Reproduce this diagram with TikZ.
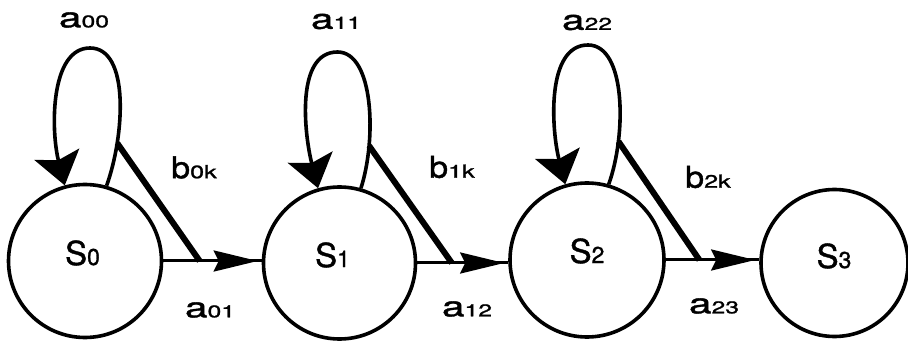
\documentclass[tikz,border=0pt]{standalone}
\usepackage{fontspec}
\usepackage{graphicx}
\setmainfont{TeX Gyre Heros}
\newfontfamily\labfont{TeX Gyre Heros}[FakeBold=1.2]
\usetikzlibrary{arrows.meta,decorations.markings}

% label forms: widened a_ij, b_ik with a widened index, and S_i
\newcommand\alab[1]{\scalebox{1.45}[1]{\fontsize{28}{28}\selectfont a\fontsize{17}{17}\selectfont #1}}
\newcommand\blab[1]{\scalebox{1.13}[1]{\fontsize{30}{30}\selectfont b}\scalebox{1.4}[1]{\fontsize{18}{18}\selectfont #1}}
\newcommand\slab[1]{{\fontsize{33}{33}\selectfont S}{\fontsize{23}{23}\selectfont #1}}

\begin{document}
\begin{tikzpicture}[x=1pt,y=1pt,
  state/.style={draw, circle, line width=3.6pt, inner sep=0pt, minimum size=#1},
  txt/.style={inner sep=0pt, font=\labfont},
  loopline/.style={line width=3.6pt, -{Stealth[length=32pt,width=46pt,inset=6pt]}},
  exitline/.style={line width=6pt},
  trans/.style={line width=3pt, postaction={decorate},
    decoration={markings, mark=at position -4pt with {\arrow{Stealth[length=44pt,width=21pt,inset=5pt]}}}},
]
\fill[white] (0,0) rectangle (908,343);
\useasboundingbox (0,0) rectangle (908,343);

% states
\node[state=153pt] (S0) at (85,82) {};
\node[state=152pt] (S1) at (339.5,80) {};
\node[state=154pt] (S2) at (587,83) {};
\node[state=147pt] (S3) at (834.5,80) {};

\node[txt] (n0) at (82.5,90) {\slab{0}};
\node[txt] (n1) at (332.5,88) {\slab{1}};
\node[txt] (n2) at (587,92) {\slab{2}};
\node[txt] (n3) at (834,87) {\slab{3}};

% forward transitions
\draw[trans] (S0.east) -- (S0.east -| S1.west) coordinate[pos=0.37] (j0);
\draw[trans] (S1.east) -- (S1.east -| S2.west) coordinate[pos=0.38] (j1);
\draw[trans] (S2.east) -- (S2.east -| S3.west) coordinate[pos=0.36] (j2);

% self loops
\coordinate (t0) at ([shift={(5,213)}]S0.center);
\coordinate (t1) at ([shift={(-2,211)}]S1.center);
\coordinate (t2) at ([shift={(1,215)}]S2.center);

\draw[loopline] (S0.74) .. controls +(18,50) and +(40,0) .. (t0) coordinate[pos=0.25] (k0)
  .. controls +(-40,0) and +(-14,55) .. (S0.105);
\draw[loopline] (S1.74) .. controls +(16,50) and +(36,0) .. (t1) coordinate[pos=0.25] (k1)
  .. controls +(-42,0) and +(-14,55) .. (S1.106);
\draw[loopline] (S2.74) .. controls +(18,50) and +(38,0) .. (t2) coordinate[pos=0.25] (k2)
  .. controls +(-42,0) and +(-14,55) .. (S2.106);

% exit branches
\draw[exitline] (k0) -- (j0);
\draw[exitline] (k1) -- (j1);
\draw[exitline] (k2) -- (j2);

% labels
\node[txt] (la00) at (84,323) {\alab{00}};
\node[txt] (la11) at (336,321.5) {\alab{11}};
\node[txt] (la22) at (587,320.5) {\alab{22}};
\node[txt] (lb0) at (194,175.5) {\blab{0k}};
\node[txt] (lb1) at (452,176) {\blab{1k}};
\node[txt] (lb2) at (708,166) {\blab{2k}};
\node[txt] (la01) at (210,33) {\alab{01}};
\node[txt] (la12) at (467,34) {\alab{12}};
\node[txt] (la23) at (714,37) {\alab{23}};
\end{tikzpicture}
\end{document}
